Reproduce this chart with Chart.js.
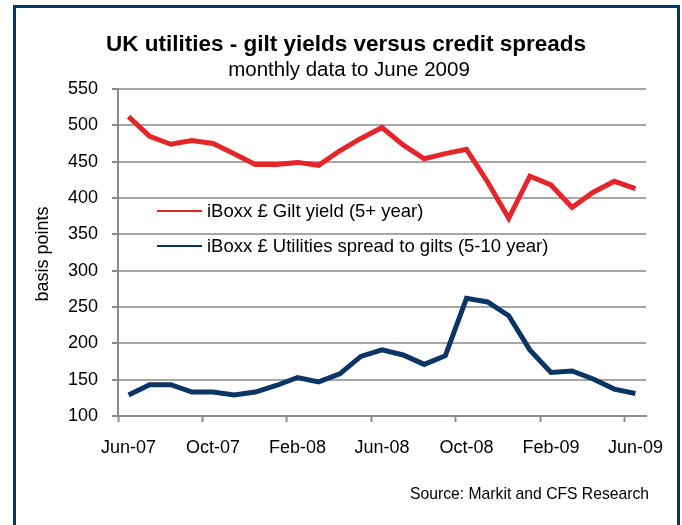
<!DOCTYPE html>
<html>
<head>
<meta charset="utf-8">
<title>UK utilities - gilt yields versus credit spreads</title>
<script src="https://cdn.jsdelivr.net/npm/chart.js@4/dist/chart.umd.min.js"></script>
<style>
    body { margin: 0; background: #fff; }
    canvas { display: block; }
</style>
</head>
<body>
<canvas id="spreadChart" width="682" height="525"></canvas>
<script>
const months = [
    "Jun-07", "Jul-07", "Aug-07", "Sep-07", "Oct-07", "Nov-07", "Dec-07",
    "Jan-08", "Feb-08", "Mar-08", "Apr-08", "May-08", "Jun-08", "Jul-08",
    "Aug-08", "Sep-08", "Oct-08", "Nov-08", "Dec-08", "Jan-09", "Feb-09",
    "Mar-09", "Apr-09", "May-09", "Jun-09"
];

// iBoxx £ Gilt yield (5+ year), basis points
const giltYield = [
    512, 485, 474, 479, 475, 461, 446, 446, 449, 445, 465, 482, 497,
    473, 454, 461, 467, 422, 372, 430, 418, 387, 408, 423, 413
];

// iBoxx £ Utilities spread to gilts (5-10 year), basis points
const utilitiesSpread = [
    129, 143, 143, 133, 133, 129, 133, 142, 153, 147, 158, 182, 191,
    184, 171, 183, 262, 257, 238, 191, 160, 162, 151, 137, 131
];

const yTicks = [100, 550, 50];   // min, max, step

const chartTitle = "UK utilities - gilt yields versus credit spreads";
const chartSubtitle = "monthly data to June 2009";
const yAxisLabel = "basis points";
const sourceNote = "Source: Markit and CFS Research";

const RED = '#e4262a';
const NAVY = '#0a3564';
const GRID = '#a6a6a6';
const AXIS = '#8c8c8c';
const FONT = "'Liberation Sans', Arial, sans-serif";

// frame, titles, axis label, legend and source note
const decorations = {
    id: 'decorations',
    beforeDraw(chart) {
        const ctx = chart.ctx;
        ctx.save();
        ctx.fillStyle = '#fff';
        ctx.fillRect(0, 0, chart.width, chart.height);
        ctx.restore();
    },
    afterDraw(chart) {
        const ctx = chart.ctx;
        ctx.save();

        ctx.strokeStyle = NAVY;
        ctx.lineWidth = 3;
        ctx.strokeRect(14.5, 6.5, 664, 600);

        ctx.fillStyle = '#000';
        ctx.textAlign = 'center';
        ctx.textBaseline = 'middle';
        ctx.font = "bold 22.5px " + FONT;
        ctx.fillText(chartTitle, 346, 45);
        ctx.font = "20.5px " + FONT;
        ctx.fillText(chartSubtitle, 349, 70);

        ctx.save();
        ctx.translate(43, 254);
        ctx.rotate(-Math.PI / 2);
        ctx.font = "18px " + FONT;
        ctx.fillText(yAxisLabel, 0, 0);
        ctx.restore();

        ctx.textAlign = 'left';
        ctx.font = "18.5px " + FONT;
        const items = chart.data.datasets;
        items.forEach((ds, i) => {
            const y = 211 + i * 35;
            ctx.strokeStyle = ds.borderColor;
            ctx.lineWidth = 2;
            ctx.beginPath();
            ctx.moveTo(157, y);
            ctx.lineTo(202, y);
            ctx.stroke();
            ctx.fillText(ds.label, 207, y + 1);
        });

        ctx.textAlign = 'right';
        ctx.font = "15.7px " + FONT;
        ctx.fillText(sourceNote, 649, 495);

        ctx.restore();
    }
};

const ctx = document.getElementById('spreadChart').getContext('2d');
new Chart(ctx, {
    type: 'line',
    data: {
        labels: months,
        datasets: [{
            label: 'iBoxx £ Gilt yield (5+ year)',
            data: giltYield,
            borderColor: RED,
            borderWidth: 5,
            pointRadius: 0,
            tension: 0
        }, {
            label: 'iBoxx £ Utilities spread to gilts (5-10 year)',
            data: utilitiesSpread,
            borderColor: NAVY,
            borderWidth: 5,
            pointRadius: 0,
            tension: 0
        }]
    },
    options: {
        responsive: false,
        animation: false,
        layout: {
            padding: { top: 89, right: 36, bottom: 0, left: 0 }
        },
        plugins: {
            legend: { display: false },
            title: { display: false },
            tooltip: { enabled: false }
        },
        scales: {
            x: {
                offset: true,
                afterFit(scale) { scale.height = 109; },
                border: { color: AXIS, width: 2 },
                grid: {
                    offset: true,
                    drawOnChartArea: false,
                    tickLength: 6,
                    tickWidth: 2,
                    tickColor: c => c.index % 4 === 0 ? AXIS : 'rgba(0,0,0,0)'
                },
                ticks: {
                    autoSkip: false,
                    maxRotation: 0,
                    padding: 15,
                    color: '#000',
                    font: { family: FONT, size: 18 },
                    callback: (val, i) => i % 4 === 0 ? months[i] : ''
                }
            },
            y: {
                min: yTicks[0],
                max: yTicks[1],
                afterFit(scale) { scale.width = 118; },
                border: { color: AXIS, width: 2 },
                grid: {
                    color: GRID,
                    lineWidth: 2,
                    borderDash: [7, 4],
                    tickLength: 6,
                    tickColor: AXIS,
                    tickWidth: 2,
                    tickBorderDash: []
                },
                ticks: {
                    stepSize: yTicks[2],
                    padding: 14,
                    color: '#000',
                    font: { family: FONT, size: 18 }
                }
            }
        }
    },
    plugins: [decorations]
});
</script>
</body>
</html>
